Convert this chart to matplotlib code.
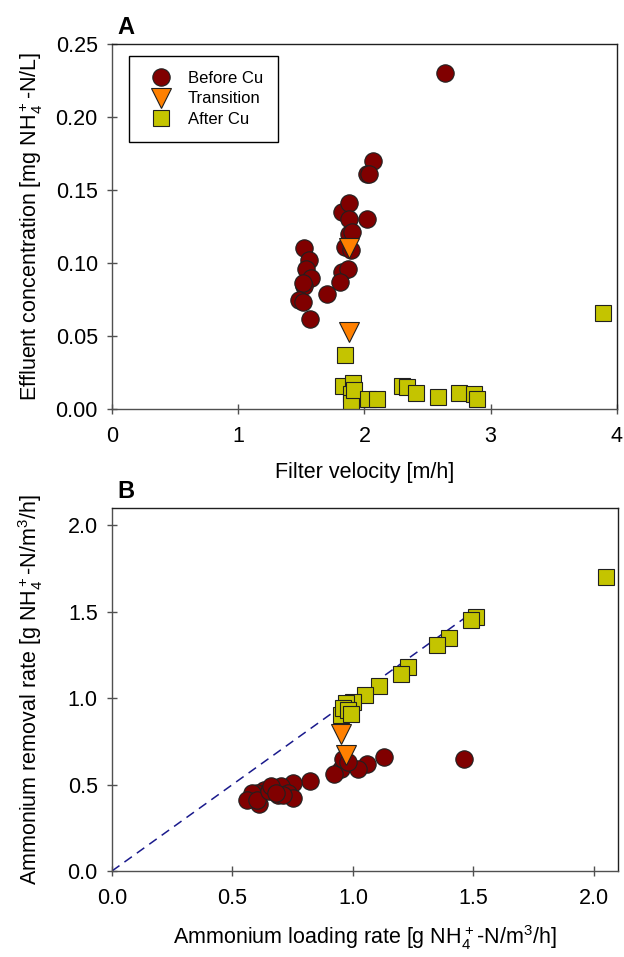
import numpy as np
import matplotlib
matplotlib.use("Agg")
import matplotlib.pyplot as plt

plt.rcParams['font.family'] = ['Liberation Sans', 'DejaVu Sans']
plt.rcParams['mathtext.fontset'] = 'custom'
plt.rcParams['mathtext.rm'] = 'Liberation Sans'

# Panel A: filter velocity [m/h] vs effluent concentration [mg NH4-N/L]
before_vel = [2.64, 2.07, 2.02, 2.04, 1.82, 1.88, 1.88, 2.02, 1.88, 1.90, 1.85, 1.89,
              1.82, 1.87, 1.81, 1.70, 1.52, 1.56, 1.54, 1.58, 1.52, 1.51, 1.48, 1.51, 1.57]
before_conc = [0.230, 0.170, 0.161, 0.161, 0.135, 0.141, 0.130, 0.130, 0.120, 0.121, 0.111, 0.109,
               0.094, 0.096, 0.087, 0.079, 0.110, 0.102, 0.096, 0.090, 0.084, 0.086, 0.075, 0.073, 0.062]
trans_vel = [1.88, 1.88]
trans_conc = [0.110, 0.053]
after_vel = [3.89, 1.85, 1.83, 1.91, 1.89, 1.89, 1.92, 2.03, 2.10, 2.30, 2.34, 2.41,
             2.58, 2.75, 2.87, 2.89]
after_conc = [0.066, 0.037, 0.016, 0.018, 0.010, 0.004, 0.013, 0.007, 0.007, 0.016, 0.015, 0.011,
              0.008, 0.011, 0.010, 0.007]

# Panel B: loading rate vs removal rate [g NH4-N/m3/h]
before_load = [1.46, 1.13, 1.06, 1.02, 0.95, 0.92, 0.96, 0.98, 0.82, 0.75, 0.70, 0.73,
               0.75, 0.69, 0.63, 0.60, 0.61, 0.58, 0.56, 0.60, 0.65, 0.71, 0.66, 0.68]
before_rem = [0.65, 0.66, 0.62, 0.59, 0.59, 0.56, 0.65, 0.63, 0.52, 0.51, 0.49, 0.45,
              0.42, 0.44, 0.47, 0.45, 0.39, 0.45, 0.41, 0.41, 0.46, 0.44, 0.49, 0.45]
trans_load = [0.95, 0.97]
trans_rem = [0.79, 0.67]
after_load = [2.05, 1.51, 1.49, 1.40, 1.35, 1.23, 1.20, 1.11, 1.05, 1.00, 0.97, 0.95,
              0.96, 0.98, 0.99]
after_rem = [1.70, 1.47, 1.45, 1.35, 1.31, 1.18, 1.14, 1.07, 1.02, 0.98, 0.97, 0.90,
             0.94, 0.93, 0.91]

c_before = '#800000'
c_trans = '#FF8000'
c_after = '#C4C400'
spine_c = '#505050'
fs = 15.5

fig = plt.figure(figsize=(6.24, 9.57), dpi=100)
axA = fig.add_axes([0.1795, 0.5726, 0.809, 0.3814])
axB = fig.add_axes([0.1795, 0.0899, 0.811, 0.3793])


def style(ax):
    for s in ax.spines.values():
        s.set_color(spine_c)
        s.set_linewidth(1.0)
    ax.spines['top'].set_color('#202020')
    ax.spines['right'].set_color('#202020')
    ax.tick_params(direction='inout', length=6.5, width=1, color=spine_c,
                   labelsize=fs, top=False, right=False)
    ax.tick_params(axis='x', pad=9)
    ax.tick_params(axis='y', pad=7)


kw = dict(linestyle='none', markeredgecolor='#202020', markeredgewidth=0.8)

axA.plot(before_vel, before_conc, 'o', color=c_before, ms=12.5, label='Before Cu', **kw)
axA.plot(trans_vel, trans_conc, 'v', color=c_trans, ms=14, label='Transition', **kw)
axA.plot(after_vel, after_conc, 's', color=c_after, ms=12, label='After Cu', **kw)
axA.set_xlim(0, 4)
axA.set_ylim(0, 0.25)
axA.set_xticks([0, 1, 2, 3, 4])
axA.set_yticks(np.arange(0, 0.26, 0.05))
axA.set_yticklabels(['%.2f' % v for v in np.arange(0, 0.26, 0.05)])
axA.set_xlabel('Filter velocity [m/h]', fontsize=fs)
axA.set_ylabel('Effluent concentration [mg NH$_4^+$-N/L]', fontsize=fs)
axA.xaxis.set_label_coords(0.5, -0.145)
axA.yaxis.set_label_coords(-0.133, 0.5)
style(axA)
axA.text(0.01, 1.015, 'A', transform=axA.transAxes, fontsize=17, fontweight='bold',
         ha='left', va='bottom')
leg = axA.legend(loc='upper left', bbox_to_anchor=(0.034, 0.967), frameon=True, fancybox=False,
                 edgecolor='black', fontsize=12, borderpad=0.9, labelspacing=0.32,
                 handletextpad=0.6, borderaxespad=0, framealpha=1)
leg.get_frame().set_linewidth(1.0)

axB.plot([0, 1.5], [0, 1.5], linestyle=(0, (6, 4)), color='#1a1a8c', lw=1.1)
axB.plot(before_load, before_rem, 'o', color=c_before, ms=12.5, **kw)
axB.plot(trans_load, trans_rem, 'v', color=c_trans, ms=14, **kw)
axB.plot(after_load, after_rem, 's', color=c_after, ms=12, **kw)
axB.set_xlim(0, 2.1)
axB.set_ylim(0, 2.1)
axB.set_xticks(np.arange(0, 2.01, 0.5))
axB.set_yticks(np.arange(0, 2.01, 0.5))
axB.set_xticklabels(['%.1f' % v for v in np.arange(0, 2.01, 0.5)])
axB.set_yticklabels(['%.1f' % v for v in np.arange(0, 2.01, 0.5)])
axB.set_xlabel('Ammonium loading rate [g NH$_4^+$-N/m$^3$/h]', fontsize=fs)
axB.set_ylabel('Ammonium removal rate [g NH$_4^+$-N/m$^3$/h]', fontsize=fs)
axB.xaxis.set_label_coords(0.5, -0.145)
axB.yaxis.set_label_coords(-0.133, 0.5)
style(axB)
axB.text(0.01, 1.015, 'B', transform=axB.transAxes, fontsize=17, fontweight='bold',
         ha='left', va='bottom')

fig.savefig('out.png', dpi=100)
